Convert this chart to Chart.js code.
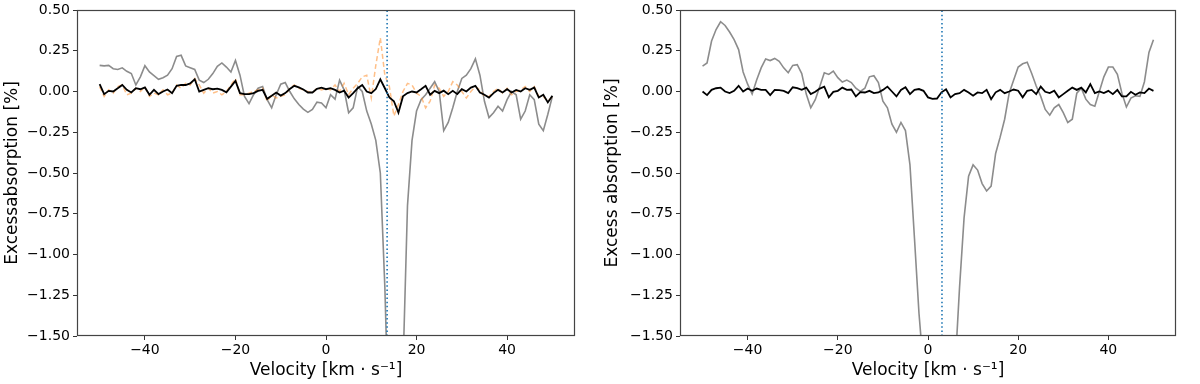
<!DOCTYPE html>
<html>
<head>
<meta charset="utf-8">
<script src="https://cdn.jsdelivr.net/npm/chart.js@4.4.1/dist/chart.umd.min.js"></script>
<style>
  body { margin: 0; background: #fff; }
  .row { display: flex; width: 1200px; height: 384px; }
  canvas { display: block; }
</style>
</head>
<body>
<div class="row">
  <canvas id="leftChart" width="600" height="384"></canvas>
  <canvas id="rightChart" width="600" height="384"></canvas>
</div>
<script>
// Velocity grid (km/s)
const velocity = [
  -50, -49, -48, -47, -46, -45, -44, -43, -42, -41,
  -40, -39, -38, -37, -36, -35, -34, -33, -32, -31,
  -30, -29, -28, -27, -26, -25, -24, -23, -22, -21,
  -20, -19, -18, -17, -16, -15, -14, -13, -12, -11,
  -10, -9, -8, -7, -6, -5, -4, -3, -2, -1,
  0, 1, 2, 3, 4, 5, 6, 7, 8, 9,
  10, 11, 12, 13, 14, 15, 16, 17, 18, 19,
  20, 21, 22, 23, 24, 25, 26, 27, 28, 29,
  30, 31, 32, 33, 34, 35, 36, 37, 38, 39,
  40, 41, 42, 43, 44, 45, 46, 47, 48, 49,
  50
];

// Linkes Panel
const leftGray = [
  0.16, 0.157, 0.16, 0.14, 0.135, 0.145, 0.124, 0.11, 0.04, 0.09,
  0.158, 0.12, 0.098, 0.075, 0.085, 0.10, 0.14, 0.215, 0.222, 0.157,
  0.146, 0.135, 0.07, 0.055, 0.075, 0.11, 0.155, 0.175, 0.15, 0.12,
  0.19, 0.10, -0.03, -0.075, -0.02, 0.02, 0.03, -0.05, -0.1, -0.02,
  0.045, 0.055, 0.0, -0.045, -0.08, -0.108, -0.128, -0.11, -0.065, -0.07,
  -0.1, -0.02, -0.047, 0.07, 0.01, -0.13, -0.1, 0.03, 0.0, -0.12,
  -0.2, -0.3, -0.5, -1.2, -2.2, -2.8, -2.6, -1.7, -0.7, -0.3,
  -0.12, -0.05, -0.02, 0.02, 0.06, 0.0, -0.24, -0.19, -0.1, 0.0,
  0.08, 0.1, 0.14, 0.2, 0.1, -0.06, -0.16, -0.13, -0.09, -0.12,
  -0.05, 0.0, -0.02, -0.17, -0.12, -0.02, -0.05, -0.2, -0.24, -0.14,
  -0.03
];
const leftOrange = [
  0.03, -0.03, 0.01, -0.01, 0.03, 0.04, -0.02, -0.01, 0.02, 0.0,
  0.03, -0.03, -0.01, -0.02, 0.01, -0.02, -0.01, 0.04, 0.02, 0.05,
  0.04, 0.08, 0.04, -0.01, 0.02, -0.01, 0.0, -0.02, 0.0, 0.04,
  0.08, -0.02, -0.02, -0.01, 0.0, 0.01, 0.02, -0.06, -0.02, -0.04,
  -0.03, -0.02, 0.02, 0.04, 0.02, 0.01, 0.0, -0.01, 0.02, 0.01,
  0.02, 0.01, 0.04, 0.0, 0.05, -0.02, 0.02, 0.05, 0.09, 0.1,
  -0.04, 0.16, 0.33, 0.1, 0.03, -0.15, -0.08, 0.0, 0.05, 0.04,
  -0.01, -0.03, -0.1, -0.06, 0.04, 0.02, -0.03, 0.0, 0.06, 0.04,
  0.0, -0.04, 0.0, 0.03, 0.01, -0.03, -0.03, 0.0, 0.02, -0.01,
  0.02, -0.02, 0.0, 0.01, 0.03, 0.0, 0.03, -0.03, -0.03, -0.06,
  -0.03
];
const leftBlack = [
  0.045, -0.016, 0.004, 0.0, 0.02, 0.04, 0.01, -0.006, 0.02, 0.014,
  0.025, -0.02, 0.01, -0.016, 0.0, 0.012, -0.01, 0.035, 0.04, 0.04,
  0.05, 0.075, 0.0, 0.01, 0.02, 0.014, 0.018, 0.01, -0.005, 0.03,
  0.065, -0.01, -0.016, -0.016, -0.01, 0.004, 0.01, -0.045, -0.026, -0.006,
  -0.025, -0.01, 0.015, 0.035, 0.025, 0.012, -0.006, -0.006, 0.016, 0.024,
  0.014, 0.02, 0.01, -0.006, 0.005, -0.037, -0.01, 0.02, 0.04, 0.0,
  -0.01, 0.015, 0.075, 0.02, -0.037, -0.06, -0.13, -0.03, -0.01, 0.0,
  -0.006, 0.014, 0.035, -0.02, 0.004, -0.01, 0.005, -0.016, 0.004, -0.016,
  0.014, 0.0, 0.024, 0.035, -0.006, -0.02, -0.037, -0.01, 0.01, -0.006,
  0.014, -0.006, 0.01, 0.0, 0.02, 0.01, 0.024, -0.037, -0.02, -0.067,
  -0.026
];
const leftMarkerVelocity = 13.5;

// Rechtes Panel
const rightGray = [
  0.156, 0.175, 0.31, 0.38, 0.428, 0.405, 0.365, 0.318, 0.257, 0.12,
  0.045, -0.016, 0.07, 0.145, 0.2, 0.19, 0.203, 0.185, 0.145, 0.115,
  0.16, 0.165, 0.11, -0.016, -0.1, -0.05, 0.03, 0.115, 0.105, 0.125,
  0.085, 0.058, 0.07, 0.055, 0.02, 0.0, 0.02, 0.09, 0.097, 0.055,
  -0.06, -0.1, -0.2, -0.25, -0.19, -0.24, -0.45, -0.9, -1.36, -1.7,
  -2.4, -2.8, -2.9, -2.8, -2.5, -2.1, -1.7, -1.2, -0.775, -0.52,
  -0.45, -0.482, -0.565, -0.61, -0.58, -0.38, -0.28, -0.17, -0.01, 0.07,
  0.15, 0.17, 0.18, 0.11, 0.034, -0.03, -0.11, -0.145, -0.1, -0.08,
  -0.13, -0.19, -0.17, -0.01, 0.02, -0.047, -0.08, -0.09, 0.0, 0.09,
  0.15, 0.15, 0.105, -0.01, -0.095, -0.04, -0.026, -0.03, 0.06, 0.24,
  0.318
];
const rightBlack = [
  0.0, -0.022, 0.01, 0.02, 0.024, 0.0, -0.01, 0.004, 0.035, 0.0,
  0.018, 0.004, 0.018, 0.01, 0.01, -0.022, 0.01, 0.008, 0.004, -0.01,
  0.026, 0.02, 0.01, 0.024, -0.016, -0.002, 0.018, 0.03, -0.036, -0.002,
  0.004, 0.024, 0.01, 0.012, -0.03, -0.004, -0.006, 0.004, -0.01, -0.006,
  0.01, 0.03, 0.0, -0.03, 0.01, 0.026, -0.016, 0.01, 0.015, 0.004,
  -0.036, -0.045, -0.043, -0.005, 0.014, -0.036, -0.016, -0.01, 0.01, -0.006,
  -0.026, -0.006, -0.01, 0.01, -0.047, -0.005, 0.01, -0.01, 0.0, 0.012,
  0.005, -0.036, 0.004, 0.01, -0.016, 0.03, -0.002, -0.01, 0.005, -0.036,
  -0.016, 0.004, 0.024, 0.01, 0.024, -0.006, 0.045, -0.01, 0.0, -0.01,
  0.004, -0.016, 0.01, -0.03, -0.03, -0.002, -0.02, -0.006, -0.01, 0.018,
  0.004
];
const rightMarkerVelocity = 3.1;

const xTickValues = [-40, -20, 0, 20, 40];
const xLimits = [-55, 55];
const yLimits = [-1.5, 0.5];

const FONT = "'DejaVu Sans', sans-serif";
const minus = s => s.replace('-', '\u2212');

function toPoints(values) {
  return velocity.map((v, i) => ({ x: v, y: values[i] }));
}

function lineDataset(values, color, width, extra) {
  return Object.assign({
    data: toPoints(values),
    borderColor: color,
    borderWidth: width,
    pointRadius: 0,
    showLine: true,
    fill: false,
    tension: 0,
    clip: 0
  }, extra || {});
}

function markerDataset(v) {
  return {
    data: [{ x: v, y: yLimits[0] }, { x: v, y: yLimits[1] }],
    borderColor: '#1f77b4',
    borderWidth: 1.6,
    borderDash: [1.5, 2.6],
    pointRadius: 0,
    showLine: true,
    clip: 0,
    order: 0
  };
}

// Rahmen wie bei matplotlib (alle vier Seiten)
const framePlugin = {
  id: 'frame',
  afterDatasetsDraw(chart) {
    const { ctx, chartArea: a } = chart;
    ctx.save();
    ctx.strokeStyle = '#444';
    ctx.lineWidth = 1.2;
    ctx.strokeRect(Math.round(a.left) + 0.5, Math.round(a.top) + 0.5,
      Math.round(a.right - a.left) - 1, Math.round(a.bottom - a.top) - 1);
    ctx.restore();
  }
};

function makeChart(id, datasets, yTitle, yWidth, padRight) {
  const ctx = document.getElementById(id).getContext('2d');
  return new Chart(ctx, {
    type: 'scatter',
    data: { datasets },
    plugins: [framePlugin],
    options: {
      responsive: false,
      animation: false,
      layout: { padding: { top: 0, right: padRight, bottom: 0, left: 0 } },
      plugins: { legend: { display: false }, tooltip: { enabled: false } },
      scales: {
        x: {
          type: 'linear',
          min: xLimits[0],
          max: xLimits[1],
          afterBuildTicks: s => { s.ticks = xTickValues.map(v => ({ value: v })); },
          afterFit: s => { s.height = 48; },
          grid: { display: true, drawOnChartArea: false, drawTicks: true, tickLength: 4, color: '#333' },
          border: { display: false },
          ticks: {
            color: '#000',
            padding: 2,
            font: { family: FONT, size: 14 },
            callback: v => minus(String(v))
          },
          title: {
            display: true,
            text: 'Velocity [km \u00b7 s\u207b\u00b9]',
            color: '#000',
            font: { family: FONT, size: 17 },
            padding: { top: 0, bottom: 3 }
          }
        },
        y: {
          min: yLimits[0],
          max: yLimits[1],
          afterFit: s => { s.width = yWidth; },
          grid: { display: true, drawOnChartArea: false, drawTicks: true, tickLength: 4, color: '#333' },
          border: { display: false },
          ticks: {
            stepSize: 0.25,
            color: '#000',
            padding: 3,
            font: { family: FONT, size: 14, lineHeight: 1 },
            callback: v => minus(Number(v).toFixed(2))
          },
          title: {
            display: true,
            text: yTitle,
            color: '#000',
            font: { family: FONT, size: 17 },
            padding: { top: 2, bottom: 0 }
          }
        }
      }
    }
  });
}

makeChart('leftChart', [
  lineDataset(leftBlack, '#000000', 1.8, { order: 1 }),
  lineDataset(leftOrange, 'rgba(255,140,40,0.55)', 1.5, { order: 2, borderDash: [5, 3] }),
  lineDataset(leftGray, '#8c8c8c', 1.6, { order: 3 }),
  markerDataset(leftMarkerVelocity)
], 'Excessabsorption [%]', 77, 25);

makeChart('rightChart', [
  lineDataset(rightBlack, '#000000', 1.8, { order: 1 }),
  lineDataset(rightGray, '#8c8c8c', 1.6, { order: 3 }),
  markerDataset(rightMarkerVelocity)
], 'Excess absorption [%]', 80, 24);
</script>
</body>
</html>
